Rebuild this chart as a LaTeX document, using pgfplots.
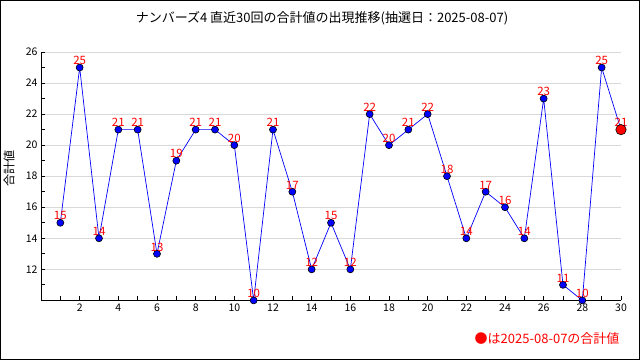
\documentclass[border=0pt]{standalone}
\usepackage{fontspec}
\setmainfont{Noto Sans CJK JP}
\usepackage{pgfplots}
\pgfplotsset{compat=1.18}
\begin{document}
\begin{tikzpicture}
\begin{axis}[
 name=ax, at={(0pt,0pt)}, anchor=south west, scale only axis, width=580pt, height=248.4pt,
 xmin=0, xmax=30, ymin=10, ymax=26,
 axis x line=bottom, axis y line=left, axis line style={-, black, line width=0.9pt},
 xtick={2,4,...,30}, minor xtick={1,...,29},
 ytick={12,14,...,26}, minor ytick={11,13,...,25},
 ymajorgrids, major grid style={gray!30, line width=0.8pt},
 tick align=inside,
 tick style={black, line width=0.8pt}, major tick length=4pt, minor tick length=4pt,
 tick label style={font=\fontsize{10.5}{12}\selectfont},
 /pgf/number format/assume math mode=true,
 clip=false,
]
\addplot[blue, line width=0.7pt, mark=*, mark options={fill=blue, draw=black, line width=0.6pt}, mark size=3.5pt,
 nodes near coords, nodes near coords style={text=red, font=\fontsize{11.5}{13}\selectfont, anchor=south, yshift=-1pt}]
 coordinates {
 (1,15) (2,25) (3,14) (4,21) (5,21) (6,13) (7,19) (8,21) (9,21) (10,20)
 (11,10) (12,21) (13,17) (14,12) (15,15) (16,12) (17,22) (18,20) (19,21) (20,22)
 (21,18) (22,14) (23,17) (24,16) (25,14) (26,23) (27,11) (28,10) (29,25) (30,21)
 };
\addplot[only marks, mark=*, mark size=5.2pt, mark options={fill=red, draw=black, line width=0.6pt}] coordinates {(30,21)};
\end{axis}
\begin{scope}[shift={(ax.south west)}]
\draw[black, line width=1pt] (-40.5pt,-59.1pt) rectangle (598.5pt,299.9pt);
\useasboundingbox (-41pt,-59.6pt) rectangle (599pt,300.4pt);
\node[font=\fontsize{13}{15}\selectfont] at (281pt,282.4pt) {ナンバーズ4 直近30回の合計値の出現推移(抽選日：2025-08-07)};
\node[rotate=90, font=\fontsize{12}{14}\selectfont] at (-32pt,132.4pt) {合計値};
\node[anchor=east, text=red, font=\fontsize{13}{15}\selectfont] at (582pt,-38.6pt) {●は2025-08-07の合計値};
\end{scope}
\end{tikzpicture}
\end{document}
